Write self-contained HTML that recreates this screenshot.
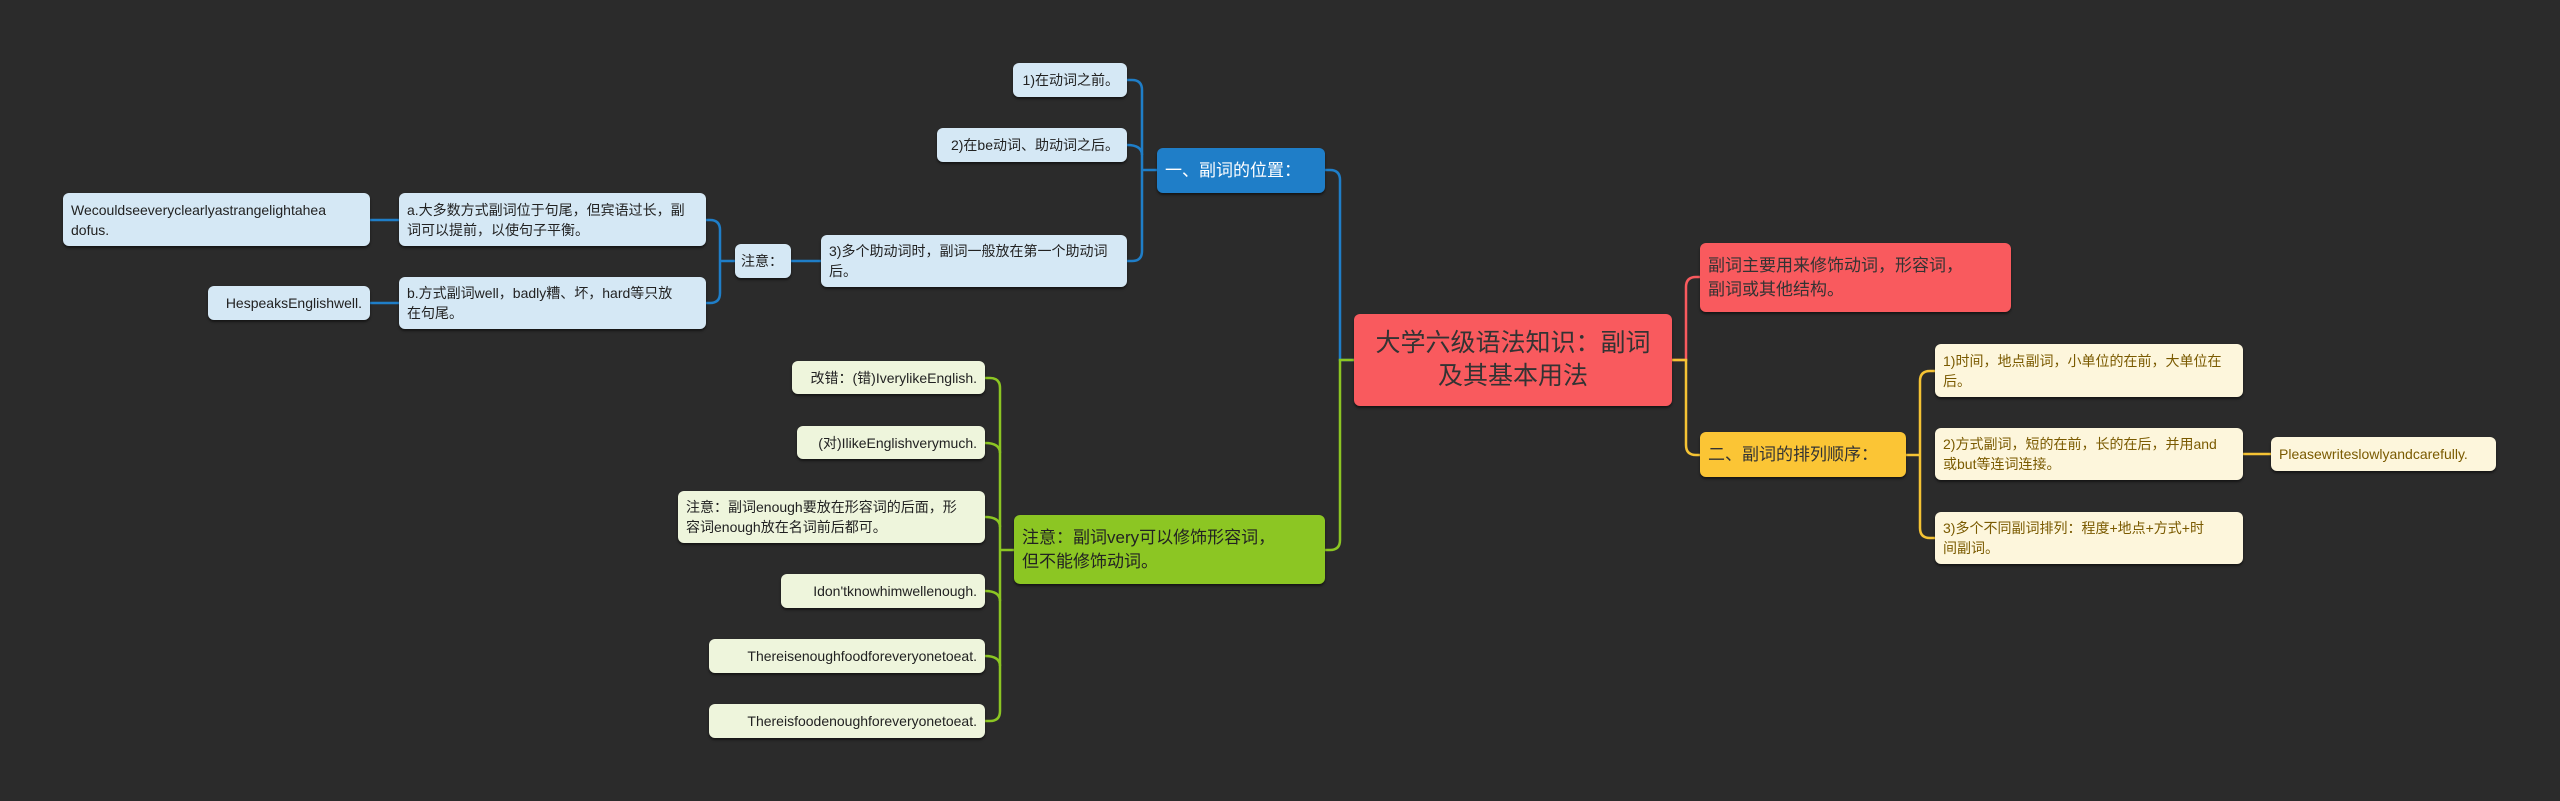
<!DOCTYPE html>
<html><head><meta charset="utf-8"><style>
body{margin:0;width:2560px;height:801px;background:#2b2b2b;overflow:hidden;position:relative;font-family:"Liberation Sans","Noto Sans CJK SC",sans-serif;}
.n{position:absolute;box-sizing:border-box;border-radius:6px;display:flex;align-items:center;padding:0 8px;font-size:14px;line-height:20px;box-shadow:0 2px 2px rgba(0,0,0,.5);white-space:nowrap;overflow:hidden;}
.b{background:#d5e8f5;color:#222;}
.g{background:#eef5dc;color:#222;}
.y{background:#fdf6dc;color:#7a5a00;}
.r{justify-content:flex-end;}
svg{position:absolute;left:0;top:0;}
</style></head><body>
<svg width="2560" height="801" fill="none" stroke-width="2.5">
<g stroke="#1f7ec8">
<path d="M1354,360 H1340 V180 Q1340,170 1330,170 H1325"/>
<path d="M1157,170 H1142"/>
<path d="M1127,80 H1132 Q1142,80 1142,90 V251 Q1142,261 1132,261 H1127"/>
<path d="M1127,145 Q1142,145 1142,155"/>
<path d="M821,261 H791"/>
<path d="M735,261 H720"/>
<path d="M706,220 H710 Q720,220 720,230 V293 Q720,303 710,303 H706"/>
<path d="M399,220 H370"/>
<path d="M399,303 H370"/>
</g>
<g stroke="#8cc623">
<path d="M1354,360 H1340 V540 Q1340,550 1330,550 H1325"/>
<path d="M1014,550 H1000"/>
<path d="M985,378 H990 Q1000,378 1000,388 V711 Q1000,721 990,721 H985"/>
<path d="M985,443 Q1000,443 1000,453"/>
<path d="M985,517 Q1000,517 1000,527"/>
<path d="M985,591 Q1000,591 1000,601"/>
<path d="M985,656 Q1000,656 1000,666"/>
</g>
<g stroke="#f95a5e"><path d="M1672,360 H1686 V287 Q1686,277 1696,277 H1700"/></g>
<g stroke="#f5c334">
<path d="M1672,360 H1686 V445 Q1686,455 1696,455 H1700"/>
<path d="M1906,455 H1920"/>
<path d="M1935,371 H1930 Q1920,371 1920,381 V528 Q1920,538 1930,538 H1935"/>
<path d="M2243,454 H2271"/>
</g>
</svg>
<div class="n" style="left:1354px;top:314px;width:318px;height:92px;background:#f95a5e;color:#333;font-size:25px;line-height:33px;justify-content:center;text-align:center;">大学六级语法知识：副词<br>及其基本用法</div>
<div class="n" style="left:1157px;top:148px;width:168px;height:45px;background:#1f7ec8;color:#fff;font-size:17px;">一、副词的位置：</div>
<div class="n b r" style="left:1013px;top:63px;width:114px;height:34px;">1)在动词之前。</div>
<div class="n b r" style="left:937px;top:128px;width:190px;height:34px;">2)在be动词、助动词之后。</div>
<div class="n b" style="left:821px;top:235px;width:306px;height:52px;">3)多个助动词时，副词一般放在第一个助动词<br>后。</div>
<div class="n b" style="left:735px;top:244px;width:56px;height:34px;padding:0 6px;">注意：</div>
<div class="n b" style="left:399px;top:193px;width:307px;height:53px;">a.大多数方式副词位于句尾，但宾语过长，副<br>词可以提前，以使句子平衡。</div>
<div class="n b" style="left:399px;top:277px;width:307px;height:52px;">b.方式副词well，badly糟、坏，hard等只放<br>在句尾。</div>
<div class="n b" style="left:63px;top:193px;width:307px;height:53px;">Wecouldseeveryclearlyastrangelightahea<br>dofus.</div>
<div class="n b r" style="left:208px;top:286px;width:162px;height:34px;">HespeaksEnglishwell.</div>
<div class="n" style="left:1014px;top:515px;width:311px;height:69px;background:#8cc623;color:#222;font-size:17px;line-height:24px;">注意：副词very可以修饰形容词，<br>但不能修饰动词。</div>
<div class="n g r" style="left:792px;top:361px;width:193px;height:33px;">改错：(错)IverylikeEnglish.</div>
<div class="n g r" style="left:797px;top:426px;width:188px;height:33px;">(对)IlikeEnglishverymuch.</div>
<div class="n g" style="left:678px;top:491px;width:307px;height:52px;">注意：副词enough要放在形容词的后面，形<br>容词enough放在名词前后都可。</div>
<div class="n g r" style="left:781px;top:574px;width:204px;height:34px;">Idon'tknowhimwellenough.</div>
<div class="n g r" style="left:709px;top:639px;width:276px;height:34px;">Thereisenoughfoodforeveryonetoeat.</div>
<div class="n g r" style="left:709px;top:704px;width:276px;height:34px;">Thereisfoodenoughforeveryonetoeat.</div>
<div class="n" style="left:1700px;top:243px;width:311px;height:69px;background:#f95a5e;color:#333;font-size:17px;line-height:24px;">副词主要用来修饰动词，形容词，<br>副词或其他结构。</div>
<div class="n" style="left:1700px;top:432px;width:206px;height:45px;background:#fbc535;color:#333;font-size:17px;">二、副词的排列顺序：</div>
<div class="n y" style="left:1935px;top:344px;width:308px;height:53px;">1)时间，地点副词，小单位的在前，大单位在<br>后。</div>
<div class="n y" style="left:1935px;top:428px;width:308px;height:52px;">2)方式副词，短的在前，长的在后，并用and<br>或but等连词连接。</div>
<div class="n y" style="left:1935px;top:512px;width:308px;height:52px;">3)多个不同副词排列：程度+地点+方式+时<br>间副词。</div>
<div class="n y" style="left:2271px;top:437px;width:225px;height:34px;">Pleasewriteslowlyandcarefully.</div>
</body></html>
